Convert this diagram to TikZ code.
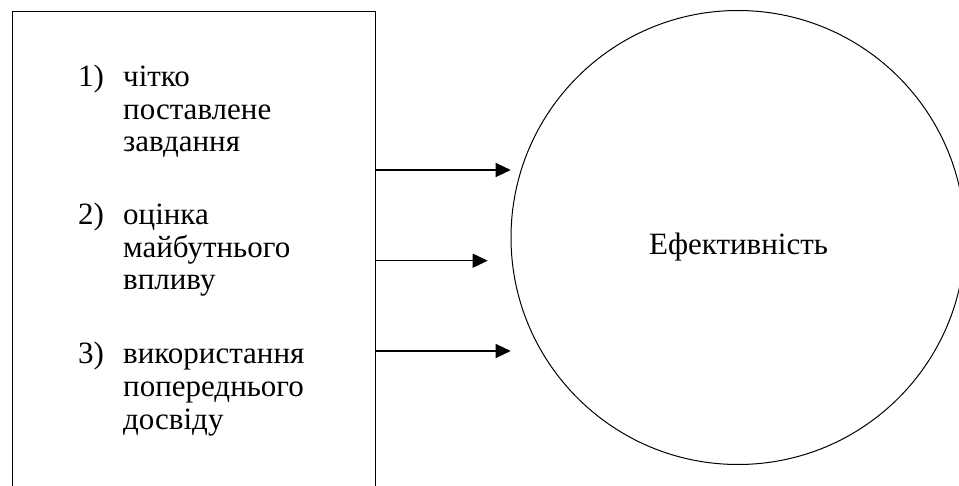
\documentclass[tikz,border=0pt]{standalone}
\usepackage{fontspec}
\setmainfont{Liberation Serif}
\usetikzlibrary{arrows.meta}
\begin{document}
\begin{tikzpicture}[x=1pt,y=-1pt,
  txt/.style={inner sep=0pt,anchor=base west,font=\fontsize{31}{32.5}\selectfont},
  arr/.style={line width=1.2pt,-{Triangle[length=15pt,width=14pt]}},
  frame/.style={draw,line width=1pt}]
\useasboundingbox[fill=white] (0,0) rectangle (959,486);
% box (open at the bottom, cut by the page edge)
\node[frame,rectangle,anchor=north west,minimum width=363pt,minimum height=500pt,inner sep=0pt] (box) at (12,11) {};
% circle
\node[frame,circle,minimum size=454pt,inner sep=0pt] (eff) at (738,237.5) {};
\node[txt,anchor=base] (efftext) at (738.5,255) {Ефективність};
% items
\node[txt] (n1) at (78,87) {1)};
\node[txt] (t1a) at (123,87) {чітко};
\node[txt] (t1b) at (123,119.5) {поставлене};
\node[txt] (t1c) at (123,152) {завдання};
\node[txt] (n2) at (78,225) {2)};
\node[txt] (t2a) at (123,225) {оцінка};
\node[txt] (t2b) at (123,257.5) {майбутнього};
\node[txt] (t2c) at (123,290) {впливу};
\node[txt] (n3) at (78,364) {3)};
\node[txt] (t3a) at (123,364) {використання};
\node[txt] (t3b) at (123,396.5) {попереднього};
\node[txt] (t3c) at (123,429) {досвіду};
% arrows
\coordinate (e1) at (510.7,170);
\coordinate (e2) at (487.7,260.7);
\coordinate (e3) at (510.7,351);
\draw[arr] (e1 -| box.east) -- (e1);
\draw[arr] (e2 -| box.east) -- (e2);
\draw[arr] (e3 -| box.east) -- (e3);
\end{tikzpicture}
\end{document}
